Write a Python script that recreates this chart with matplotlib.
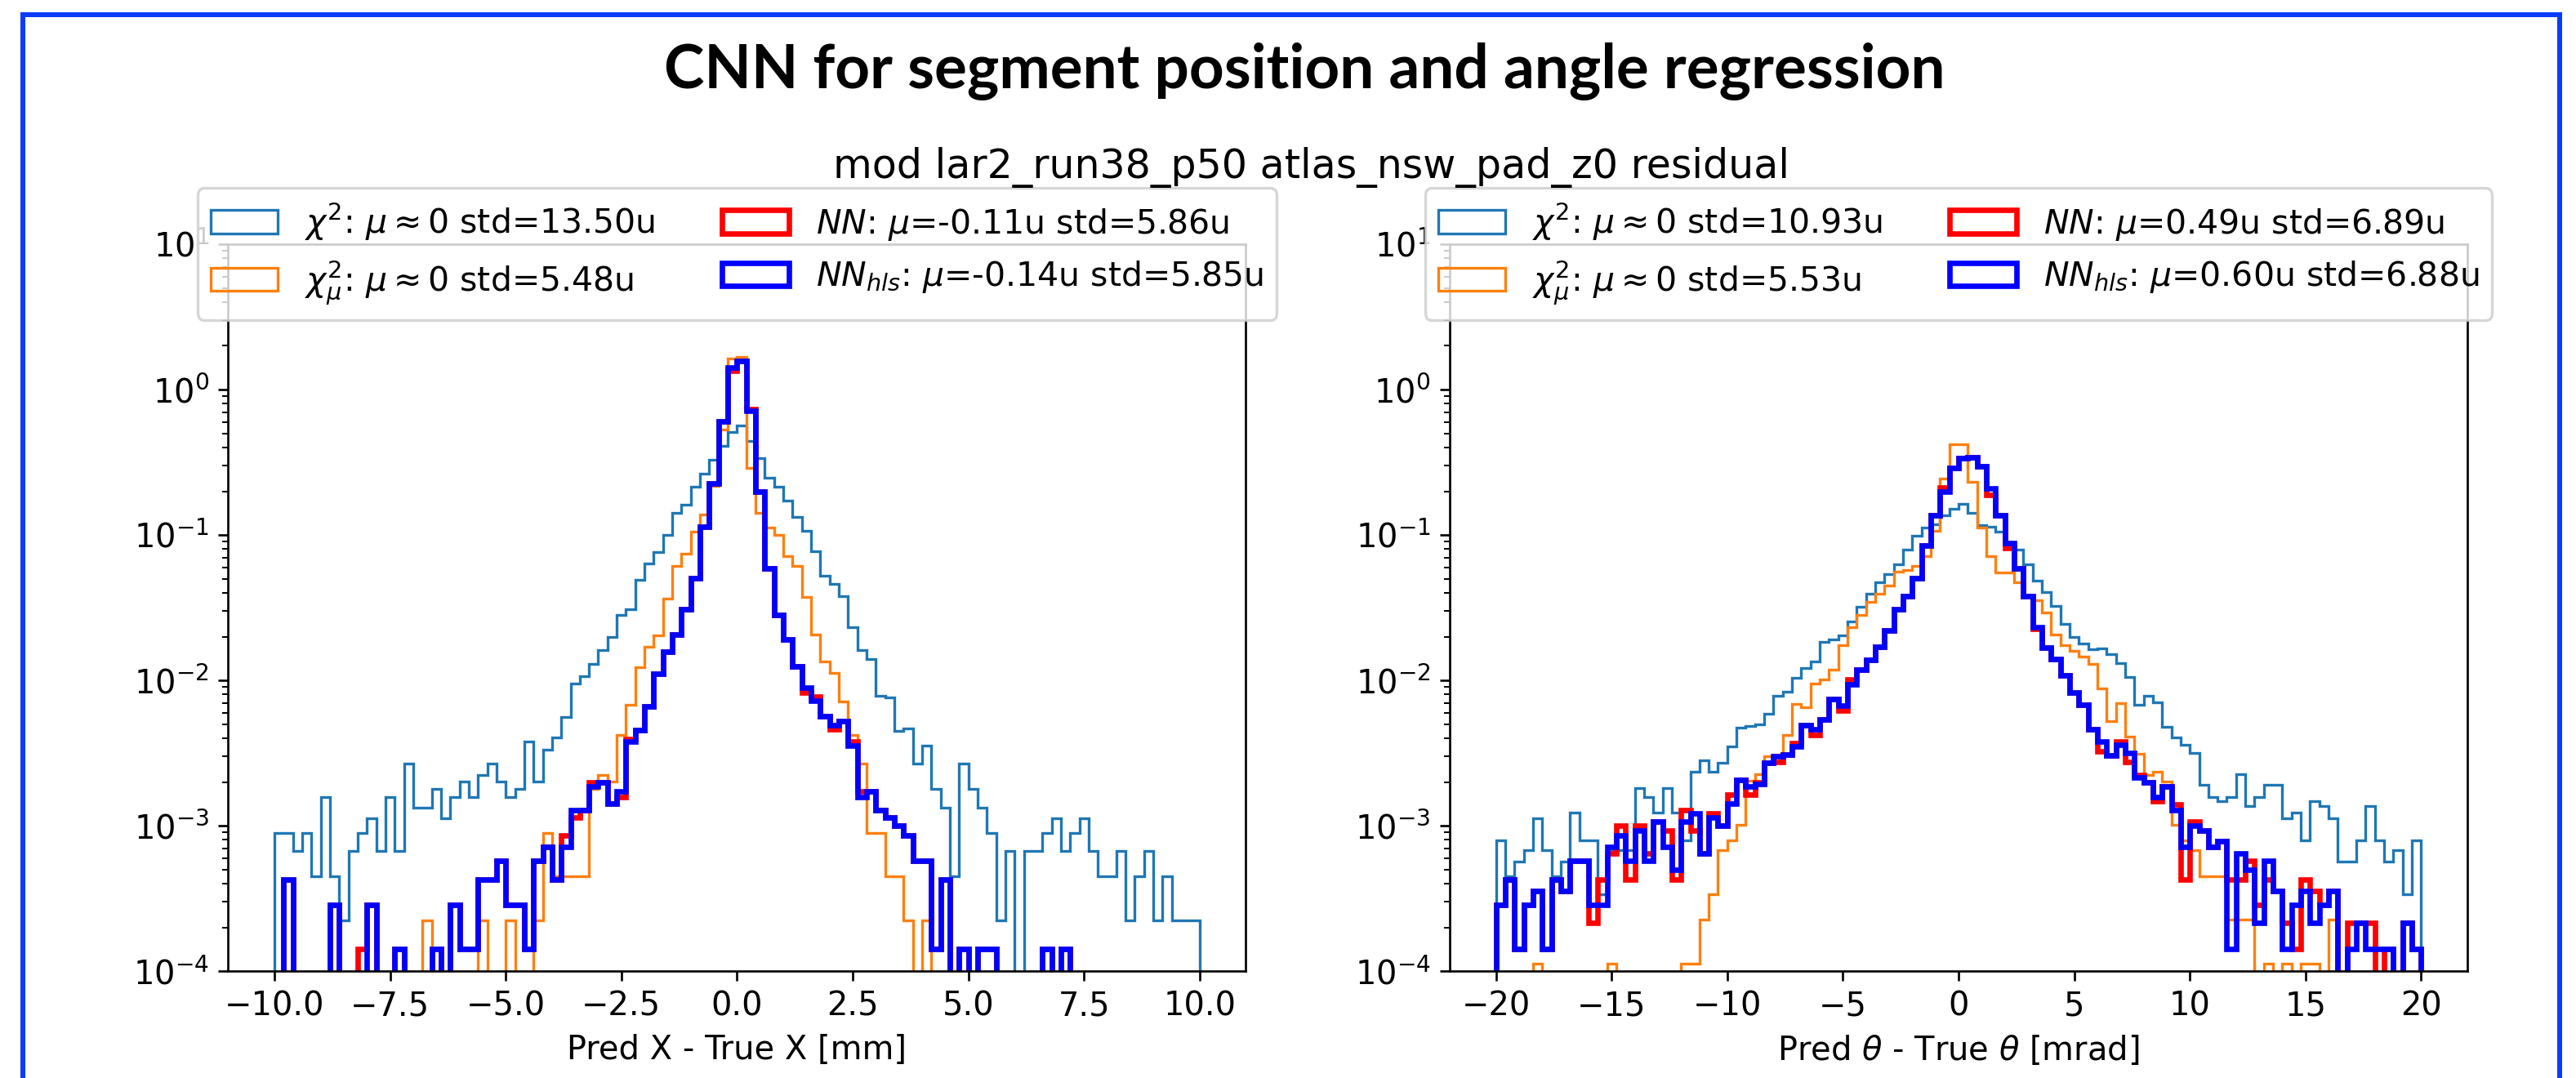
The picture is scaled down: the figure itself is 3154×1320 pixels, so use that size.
import numpy as np
import matplotlib
matplotlib.use('Agg')
import matplotlib.pyplot as plt
from matplotlib.lines import Line2D

plt.rcParams['font.family'] = ['DejaVu Sans']
plt.rcParams['font.size'] = 12

# ---------------- data (density per bin, 100 bins) ----------------
x_range = (-10, 10)
t_range = (-20, 20)
n_bins = 100

chi2_x = [8.96e-4, 8.96e-4, 6.72e-4, 8.96e-4, 4.48e-4, 1.57e-3, 4.48e-4, 2.24e-4, 6.72e-4, 8.96e-4,
          1.12e-3, 6.72e-4, 1.57e-3, 6.72e-4, 2.69e-3, 1.34e-3, 1.34e-3, 1.79e-3, 1.12e-3, 1.57e-3,
          2.02e-3, 1.57e-3, 2.24e-3, 2.69e-3, 2.02e-3, 1.57e-3, 1.79e-3, 3.81e-3, 2.02e-3, 3.36e-3,
          4.03e-3, 5.6e-3, 9.57e-3, 0.0107, 0.0130, 0.0161, 0.0199, 0.0281, 0.0307, 0.0493,
          0.0638, 0.0759, 0.100, 0.142, 0.161, 0.214, 0.265, 0.329, 0.408, 0.511,
          0.564, 0.445, 0.336, 0.248, 0.214, 0.172, 0.133, 0.107, 0.0776, 0.0526,
          0.0462, 0.0381, 0.0232, 0.0161, 0.0141, 7.82e-3, 7.65e-3, 4.48e-3, 4.70e-3, 2.69e-3,
          3.58e-3, 1.79e-3, 1.34e-3, 4.48e-4, 2.69e-3, 1.79e-3, 1.34e-3, 8.96e-4, 2.24e-4, 6.72e-4,
          0, 6.72e-4, 6.72e-4, 8.96e-4, 1.12e-3, 6.72e-4, 8.96e-4, 1.12e-3, 6.72e-4, 4.48e-4,
          4.48e-4, 6.72e-4, 2.24e-4, 4.48e-4, 6.72e-4, 2.24e-4, 4.48e-4, 2.24e-4, 2.24e-4, 2.24e-4]

chi2mu_x = [0, 0, 0, 0, 0, 0, 0, 0, 0, 0,
            0, 0, 0, 0, 0, 0, 2.24e-4, 0, 0, 0,
            0, 0, 2.24e-4, 0, 0, 2.24e-4, 0, 0, 2.24e-4, 8.96e-4,
            4.48e-4, 4.48e-4, 4.48e-4, 4.48e-4, 1.79e-3, 2.24e-3, 2.02e-3, 4.22e-3, 6.78e-3, 0.0124,
            0.0171, 0.0204, 0.0365, 0.0612, 0.0743, 0.105, 0.139, 0.218, 0.528, 1.63,
            1.68, 0.289, 0.142, 0.112, 0.100, 0.0711, 0.0612, 0.0373, 0.0208, 0.0135,
            0.0112, 7.14e-3, 4.22e-3, 2.69e-3, 8.96e-4, 8.96e-4, 4.48e-4, 4.48e-4, 2.24e-4, 0,
            2.24e-4, 0, 0, 0, 0, 0, 0, 0, 0, 0,
            0, 0, 0, 0, 0, 0, 0, 0, 0, 0,
            0, 0, 0, 0, 0, 0, 0, 0, 0, 0]

nn_x = [0, 4.29e-4, 0, 0, 0, 0, 2.86e-4, 0, 0, 1.43e-4,
        2.86e-4, 0, 0, 1.43e-4, 0, 0, 0, 1.43e-4, 0, 2.86e-4,
        1.43e-4, 1.43e-4, 4.29e-4, 4.29e-4, 5.72e-4, 2.86e-4, 2.86e-4, 1.43e-4, 5.72e-4, 7.15e-4,
        4.29e-4, 8.58e-4, 1.14e-3, 1.29e-3, 2.00e-3, 2.00e-3, 1.43e-3, 1.57e-3, 3.95e-3, 4.56e-3,
        6.64e-3, 0.0111, 0.0157, 0.0208, 0.0307, 0.0504, 0.114, 0.227, 0.601, 1.35,
        1.58, 0.730, 0.200, 0.0586, 0.0281, 0.0191, 0.0125, 8.24e-3, 7.70e-3, 5.71e-3,
        4.60e-3, 5.24e-3, 3.80e-3, 1.72e-3, 1.72e-3, 1.29e-3, 1.14e-3, 1.00e-3, 8.58e-4, 5.72e-4,
        5.72e-4, 1.43e-4, 4.29e-4, 0, 1.43e-4, 0, 1.43e-4, 1.43e-4, 0, 0,
        0, 0, 0, 1.43e-4, 0, 1.43e-4, 0, 0, 0, 0,
        0, 0, 0, 0, 0, 0, 0, 0, 0, 0]

nnhls_x = [0, 4.29e-4, 0, 0, 0, 0, 2.86e-4, 0, 0, 0,
           2.86e-4, 0, 0, 1.43e-4, 0, 0, 0, 1.43e-4, 0, 2.86e-4,
           1.43e-4, 1.43e-4, 4.29e-4, 4.29e-4, 5.72e-4, 2.86e-4, 2.86e-4, 1.43e-4, 5.72e-4, 7.15e-4,
           4.29e-4, 7.15e-4, 1.29e-3, 1.29e-3, 1.86e-3, 2.00e-3, 1.43e-3, 1.72e-3, 3.79e-3, 4.56e-3,
           6.64e-3, 0.0111, 0.0157, 0.0208, 0.0307, 0.0504, 0.114, 0.227, 0.601, 1.41,
           1.58, 0.714, 0.200, 0.0586, 0.0281, 0.0191, 0.0125, 8.97e-3, 7.24e-3, 5.71e-3,
           4.91e-3, 5.24e-3, 3.56e-3, 1.57e-3, 1.72e-3, 1.29e-3, 1.14e-3, 1.00e-3, 8.58e-4, 5.72e-4,
           5.72e-4, 1.43e-4, 4.29e-4, 0, 1.43e-4, 0, 1.43e-4, 1.43e-4, 0, 0,
           0, 0, 0, 1.43e-4, 0, 1.43e-4, 0, 0, 0, 0,
           0, 0, 0, 0, 0, 0, 0, 0, 0, 0]

chi2_t = [7.91e-4, 4.52e-4, 5.65e-4, 6.78e-4, 1.13e-3, 6.78e-4, 4.52e-4, 5.65e-4, 1.24e-3, 7.91e-4,
          7.91e-4, 3.39e-4, 6.78e-4, 6.78e-4, 6.78e-4, 1.81e-3, 1.58e-3, 1.24e-3, 1.81e-3, 1.24e-3,
          7.91e-4, 2.37e-3, 2.83e-3, 2.37e-3, 2.71e-3, 3.50e-3, 4.76e-3, 4.86e-3, 5.01e-3, 5.91e-3,
          7.89e-3, 8.41e-3, 0.01045, 0.0122, 0.0135, 0.0183, 0.0191, 0.0204, 0.0253, 0.0321,
          0.0397, 0.0472, 0.0537, 0.0625, 0.0793, 0.0984, 0.112, 0.119, 0.136, 0.151,
          0.163, 0.142, 0.117, 0.114, 0.105, 0.0883, 0.0793, 0.0625, 0.0483, 0.0406,
          0.0327, 0.0245, 0.0199, 0.0179, 0.0164, 0.0167, 0.0151, 0.0131, 0.0105, 6.78e-3,
          7.88e-3, 7.08e-3, 4.81e-3, 4.05e-3, 3.63e-3, 3.19e-3, 1.92e-3, 1.58e-3, 1.47e-3, 1.58e-3,
          2.26e-3, 1.36e-3, 1.58e-3, 1.92e-3, 1.92e-3, 1.13e-3, 1.24e-3, 7.91e-4, 1.47e-3, 1.36e-3,
          1.13e-3, 5.65e-4, 5.65e-4, 7.91e-4, 1.36e-3, 7.91e-4, 5.65e-4, 6.78e-4, 3.39e-4, 7.91e-4]

chi2mu_t = [0, 0, 0, 0, 1.13e-4, 0, 0, 0, 0, 0,
            0, 0, 1.13e-4, 0, 0, 0, 0, 0, 0, 0,
            1.13e-4, 1.13e-4, 2.26e-4, 3.39e-4, 6.78e-4, 7.91e-4, 1.02e-3, 2.03e-3, 2.26e-3, 3.00e-3,
            3.10e-3, 4.22e-3, 6.93e-3, 6.50e-3, 9.50e-3, 0.0101, 0.0119, 0.0175, 0.0232, 0.0281,
            0.0349, 0.0397, 0.0452, 0.0561, 0.0573, 0.0612, 0.0711, 0.107, 0.243, 0.421,
            0.421, 0.233, 0.112, 0.0711, 0.0556, 0.0549, 0.0472, 0.0381, 0.0357, 0.0294,
            0.0208, 0.0175, 0.0160, 0.0145, 0.0129, 8.79e-3, 5.24e-3, 7.02e-3, 4.13e-3, 3.12e-3,
            2.23e-3, 2.34e-3, 2.01e-3, 1.02e-3, 7.91e-4, 6.78e-4, 4.52e-4, 4.52e-4, 4.52e-4, 2.26e-4,
            2.26e-4, 2.26e-4, 0, 1.13e-4, 0, 1.13e-4, 0, 1.13e-4, 1.13e-4, 0,
            2.26e-4, 0, 0, 0, 0, 0, 0, 0, 0, 0]

nn_t = [2.86e-4, 4.29e-4, 1.43e-4, 2.86e-4, 3.58e-4, 1.43e-4, 4.29e-4, 3.58e-4, 5.72e-4, 5.72e-4,
        2.15e-4, 4.29e-4, 6.44e-4, 1.00e-3, 4.29e-4, 1.00e-3, 6.44e-4, 1.07e-3, 9.30e-4, 4.29e-4,
        1.29e-3, 9.30e-4, 6.44e-4, 1.22e-3, 1.00e-3, 1.64e-3, 2.07e-3, 1.64e-3, 2.00e-3, 2.72e-3,
        2.74e-3, 3.10e-3, 3.70e-3, 4.90e-3, 4.20e-3, 5.40e-3, 7.40e-3, 6.20e-3, 0.0101, 0.0119,
        0.0138, 0.0171, 0.0222, 0.0307, 0.0381, 0.0504, 0.0845, 0.136, 0.213, 0.289,
        0.336, 0.343, 0.295, 0.188, 0.136, 0.081, 0.0586, 0.0381, 0.0227, 0.0168,
        0.0141, 0.0109, 8.24e-3, 6.78e-3, 4.60e-3, 3.26e-3, 3.06e-3, 3.79e-3, 2.74e-3, 2.25e-3,
        2.00e-3, 1.47e-3, 1.86e-3, 1.41e-3, 4.29e-4, 1.07e-3, 9.30e-4, 7.15e-4, 7.87e-4, 4.29e-4,
        4.29e-4, 5.72e-4, 2.86e-4, 4.29e-4, 3.58e-4, 2.15e-4, 1.43e-4, 4.29e-4, 3.58e-4, 2.86e-4,
        3.58e-4, 0, 2.15e-4, 2.15e-4, 2.15e-4, 0, 1.43e-4, 0, 2.15e-4, 1.43e-4]

nnhls_t = [2.86e-4, 4.29e-4, 1.43e-4, 2.86e-4, 3.58e-4, 1.43e-4, 4.29e-4, 3.58e-4, 5.72e-4, 5.72e-4,
           2.86e-4, 2.86e-4, 7.15e-4, 8.58e-4, 5.72e-4, 9.30e-4, 5.72e-4, 1.07e-3, 7.15e-4, 5.00e-4,
           1.07e-3, 1.22e-3, 6.44e-4, 1.14e-3, 1.00e-3, 1.43e-3, 2.07e-3, 1.86e-3, 1.93e-3, 2.72e-3,
           3.00e-3, 3.10e-3, 3.50e-3, 4.90e-3, 4.60e-3, 5.40e-3, 7.40e-3, 6.70e-3, 9.40e-3, 0.0119,
           0.0138, 0.0171, 0.0222, 0.0307, 0.0381, 0.0504, 0.0845, 0.136, 0.200, 0.289,
           0.336, 0.343, 0.295, 0.209, 0.136, 0.0883, 0.0586, 0.0381, 0.0232, 0.0168,
           0.0141, 0.0109, 8.24e-3, 6.78e-3, 4.60e-3, 3.79e-3, 3.06e-3, 3.63e-3, 3.19e-3, 2.15e-3,
           2.00e-3, 1.57e-3, 1.86e-3, 1.29e-3, 7.15e-4, 1.00e-3, 9.30e-4, 7.15e-4, 7.87e-4, 1.43e-4,
           6.44e-4, 5.00e-4, 2.15e-4, 5.72e-4, 3.58e-4, 1.43e-4, 2.86e-4, 3.58e-4, 2.15e-4, 2.86e-4,
           3.58e-4, 0, 1.43e-4, 2.15e-4, 1.43e-4, 1.43e-4, 1.43e-4, 0, 2.15e-4, 1.43e-4]

labels_x = [r'$\chi^2$: $\mu\approx0$ std=13.50u',
            r'$\chi^2_\mu$: $\mu\approx0$ std=5.48u',
            r'$NN$: $\mu$=-0.11u std=5.86u',
            r'$NN_{hls}$: $\mu$=-0.14u std=5.85u']
labels_t = [r'$\chi^2$: $\mu\approx0$ std=10.93u',
            r'$\chi^2_\mu$: $\mu\approx0$ std=5.53u',
            r'$NN$: $\mu$=0.49u std=6.89u',
            r'$NN_{hls}$: $\mu$=0.60u std=6.88u']

title = 'CNN for segment position and angle regression'
subtitle = 'mod lar2_run38_p50 atlas_nsw_pad_z0 residual'
xlabel_x = 'Pred X - True X [mm]'
xlabel_t = r'Pred $\theta$ - True $\theta$ [mrad]'

# ---------------- figure ----------------
W, H = 3154, 1320
DPI = 240
fig = plt.figure(figsize=(W / DPI, H / DPI), dpi=DPI)
fig.patch.set_facecolor('white')

ax1 = fig.add_axes([279.4 / W, 1 - 1189.3 / H, 1246 / W, 890.3 / H])
ax2 = fig.add_axes([1775.0 / W, 1 - 1189.3 / H, 1246 / W, 890.3 / H])

styles = [('C0', 1.0), ('C1', 1.0), ('red', 2.0), ('blue', 2.0)]


def draw(ax, rng, series, labels, xlabel):
    edges = np.linspace(rng[0], rng[1], n_bins + 1)
    centers = 0.5 * (edges[:-1] + edges[1:])
    for vals, lab, (col, lw) in zip(series, labels, styles):
        ax.hist(centers, bins=edges, weights=vals, histtype='step',
                color=col, lw=lw, label=lab)
    ax.set_yscale('log')
    ax.set_ylim(1e-4, 10)
    span = rng[1] - rng[0]
    ax.set_xlim(rng[0] - 0.05 * span, rng[1] + 0.05 * span)
    ax.set_xlabel(xlabel)
    ax.legend(loc='upper center', bbox_to_anchor=(0.5, 1.1), ncol=2, fontsize=12.3)


draw(ax1, x_range, [chi2_x, chi2mu_x, nn_x, nnhls_x], labels_x, xlabel_x)
draw(ax2, t_range, [chi2_t, chi2mu_t, nn_t, nnhls_t], labels_t, xlabel_t)

fig.text(1606 / W, 1 - 218 / H, subtitle, ha='center', va='baseline', fontsize=14.7)
fig.text(1597 / W, 1 - 108 / H, title, ha='center', va='baseline', fontsize=22.4,
         fontweight='bold', family=['Lato', 'DejaVu Sans'])

# slide border
fig.add_artist(Line2D([28 / W, 28 / W, 3134 / W, 3134 / W], [0, 1 - 18 / H, 1 - 18 / H, 0],
                      transform=fig.transFigure, color='#0a3cff', lw=1.8,
                      solid_joinstyle='miter'))

fig.savefig('out.png', dpi=DPI)
